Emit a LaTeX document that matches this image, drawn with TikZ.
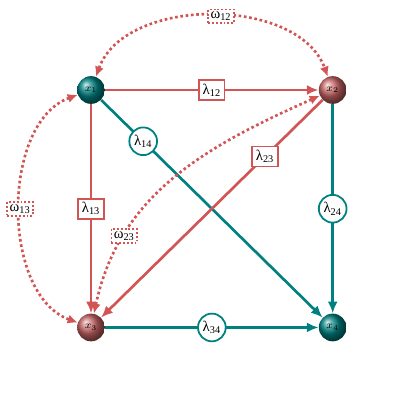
\documentclass[tikz,border=0pt]{standalone}
\usepackage{fontspec}
\setmainfont{Liberation Serif}
\usetikzlibrary{arrows.meta, positioning}
\definecolor{linkred}{RGB}{210,85,85}
\definecolor{linkteal}{RGB}{0,128,128}
\definecolor{ballred}{RGB}{200,100,100}
\definecolor{ballteal}{RGB}{0,130,130}

\begin{document}
\begin{tikzpicture}[
    ball/.style={circle, shading=ball, minimum size=0.66cm, inner sep=0pt, font=\scriptsize, text=black},
    tealball/.style={ball, ball color=ballteal},
    redball/.style={ball, ball color=ballred},
    redarr/.style={-{Latex[length=2.8mm, width=2.4mm]}, line width=1.8pt, linkred},
    tealarr/.style={-{Latex[length=2.8mm, width=2.4mm]}, line width=1.8pt, linkteal},
    omega/.style={{Latex[length=2.4mm, width=2.2mm]}-{Latex[length=2.4mm, width=2.2mm]}, line width=1.8pt, linkred, dash pattern=on 1.8pt off 1.8pt},
    rlab/.style={rectangle, draw=linkred, line width=1.2pt, fill=white, text=black, inner sep=2.4pt},
    tlab/.style={circle, draw=linkteal, line width=1.2pt, fill=white, text=black, inner sep=1pt, minimum size=0.66cm},
    wlab/.style={rectangle, draw=linkred, line width=1.2pt, dash pattern=on 1.3pt off 1.3pt, fill=white, text=black, inner sep=1.6pt},
]
\useasboundingbox (0,0) rectangle (10,10);

\node[tealball] (x1) at (2.167,7.857) {$x_1$};
\node[redball, right=5.08cm of x1] (x2) {$x_2$};
\node[redball, below=4.98cm of x1] (x3) {$x_3$};
\node[tealball, right=5.08cm of x3] (x4) {$x_4$};

% intensities
\draw[tealarr] (x1) -- node[tlab, pos=0.19] {λ\textsubscript{14}} (x4);
\draw[tealarr] (x2) -- node[tlab] {λ\textsubscript{24}} (x4);
\draw[tealarr] (x3) -- node[tlab] {λ\textsubscript{34}} (x4);
\draw[redarr] (x1) -- node[rlab] {λ\textsubscript{12}} (x2);
\draw[redarr] (x1) -- node[rlab] {λ\textsubscript{13}} (x3);
\draw[redarr] (x2) -- node[rlab, pos=0.26] {λ\textsubscript{23}} (x3);

% dotted couplings
\draw[omega] (x1) to[bend left=70, looseness=0.95] node[wlab, pos=0.53] {ω\textsubscript{12}} (x2);
\draw[omega] (x1) to[bend right=70, looseness=0.92] node[wlab] {ω\textsubscript{13}} (x3);
\draw[omega] (x2) to[out=204, in=78] node[wlab, pos=0.75] {ω\textsubscript{23}} (x3);

\end{tikzpicture}
\end{document}
